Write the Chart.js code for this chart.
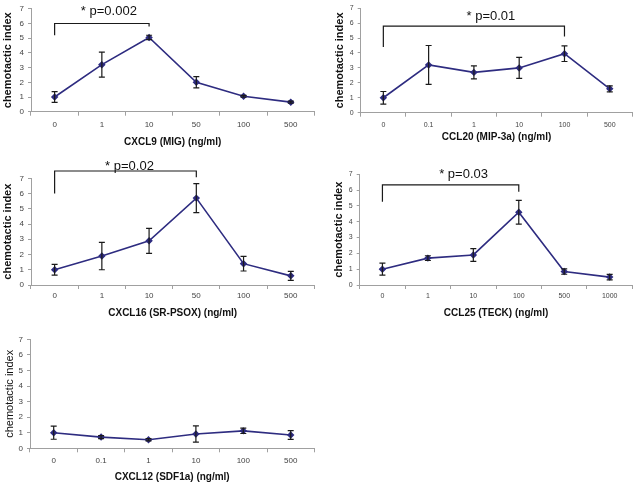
<!DOCTYPE html>
<html>
<head>
<meta charset="utf-8">
<script src="https://cdn.jsdelivr.net/npm/chart.js@4.4.0/dist/chart.umd.min.js"></script>
<style>
    html, body { margin: 0; padding: 0; background: #fff; }
    body { width: 638px; height: 488px; position: relative; overflow: hidden; }
    .panel { position: absolute; }
</style>
</head>
<body>
<div class="panel" style="left:0px;top:0px;width:320px;height:152px"><canvas id="c1"></canvas></div>
<div class="panel" style="left:318px;top:0px;width:320px;height:152px"><canvas id="c2"></canvas></div>
<div class="panel" style="left:0px;top:150px;width:320px;height:170px"><canvas id="c3"></canvas></div>
<div class="panel" style="left:318px;top:150px;width:320px;height:170px"><canvas id="c4"></canvas></div>
<div class="panel" style="left:0px;top:320px;width:320px;height:168px"><canvas id="c5"></canvas></div>
<script>
// dados (média e erro)
const yTicks = [0, 1, 2, 3, 4, 5, 6, 7];

const cxcl9Doses = ['0', '1', '10', '50', '100', '500'];
const cxcl9Mean = [1.0, 3.2, 5.05, 2.0, 1.05, 0.65];
const cxcl9Err = [0.37, 0.85, 0.15, 0.38, 0.06, 0.07];
const cxcl9Bracket = [0, 2, 6.0, 5.2, 5.8];   // de, até, topo, perna esq., perna dir.

const ccl20Doses = ['0', '0.1', '1', '10', '100', '500'];
const ccl20Mean = [1.0, 3.2, 2.7, 3.0, 3.95, 1.6];
const ccl20Err = [0.42, 1.3, 0.43, 0.7, 0.52, 0.2];
const ccl20Bracket = [0, 4, 5.8, 4.4, 5.1];

const cxcl16Doses = ['0', '1', '10', '50', '100', '500'];
const cxcl16Mean = [1.0, 1.9, 2.9, 5.7, 1.4, 0.6];
const cxcl16Err = [0.35, 0.9, 0.82, 0.95, 0.48, 0.3];
const cxcl16Bracket = [0, 3, 7.48, 6.0, 7.07];

const ccl25Doses = ['0', '1', '10', '100', '500', '1000'];
const ccl25Mean = [1.0, 1.7, 1.9, 4.6, 0.85, 0.5];
const ccl25Err = [0.38, 0.15, 0.4, 0.75, 0.17, 0.17];
const ccl25Bracket = [0, 3, 6.33, 5.27, 5.9];

const cxcl12Doses = ['0', '0.1', '1', '10', '100', '500'];
const cxcl12Mean = [1.0, 0.72, 0.55, 0.92, 1.12, 0.85];
const cxcl12Err = [0.42, 0.1, 0.07, 0.52, 0.17, 0.28];

const FONT = "'Liberation Sans', Arial, sans-serif";
const LINE_COLOR = '#2e2c80';

// barras de erro + colchete de significância
const extrasPlugin = {
    id: 'extras',
    afterDatasetsDraw(chart, args, opts) {
        const ctx = chart.ctx;
        const meta = chart.getDatasetMeta(0);
        const y = chart.scales.y;
        const x = chart.scales.x;
        ctx.save();
        ctx.strokeStyle = '#1a1a1a';
        ctx.lineWidth = 1.2;
        opts.err.forEach(function(e, i) {
            const px = meta.data[i].x;
            const m = opts.mean[i];
            const top = y.getPixelForValue(m + e);
            const bot = y.getPixelForValue(m - e);
            ctx.beginPath();
            ctx.moveTo(px, top); ctx.lineTo(px, bot);
            ctx.moveTo(px - 3, top); ctx.lineTo(px + 3, top);
            ctx.moveTo(px - 3, bot); ctx.lineTo(px + 3, bot);
            ctx.stroke();
        });
        if (opts.bracket) {
            const b = opts.bracket;
            const x1 = x.getPixelForValue(b[0]);
            const x2 = x.getPixelForValue(b[1]);
            const yt = y.getPixelForValue(b[2]);
            ctx.beginPath();
            ctx.moveTo(x1, y.getPixelForValue(b[3]));
            ctx.lineTo(x1, yt);
            ctx.lineTo(x2, yt);
            ctx.lineTo(x2, y.getPixelForValue(b[4]));
            ctx.stroke();
            ctx.fillStyle = '#111';
            ctx.font = opts.labelSize + 'px ' + FONT;
            ctx.textAlign = 'center';
            ctx.textBaseline = 'middle';
            ctx.fillText(opts.label, (x1 + x2) / 2 + opts.labelDx, yt - opts.labelDy);
        }
        ctx.restore();
    }
};

function makePanel(id, doses, mean, err, p) {
    const el = document.getElementById(id);
    return new Chart(el.getContext('2d'), {
        type: 'line',
        data: {
            labels: doses,
            datasets: [{
                data: mean,
                borderColor: LINE_COLOR,
                backgroundColor: LINE_COLOR,
                borderWidth: 1.6,
                tension: 0,
                pointStyle: 'rectRot',
                pointRadius: 2.6,
                pointBackgroundColor: LINE_COLOR,
                pointBorderColor: LINE_COLOR
            }]
        },
        options: {
            responsive: true,
            maintainAspectRatio: false,
            animation: false,
            layout: { padding: { top: p.padTop, right: p.padRight, left: 0, bottom: 0 } },
            plugins: {
                legend: { display: false },
                tooltip: { enabled: false },
                extras: {
                    mean: mean, err: err, bracket: p.bracket, label: p.label,
                    labelSize: p.labelSize, labelDx: p.labelDx, labelDy: p.labelDy
                }
            },
            scales: {
                x: {
                    offset: true,
                    grid: { offset: true, drawOnChartArea: false, drawTicks: true, tickLength: 4, color: '#a0a0a0' },
                    border: { color: '#a0a0a0', width: 1 },
                    ticks: { color: '#444', font: { family: FONT, size: p.tickSize }, padding: p.xTickPad, maxRotation: 0, autoSkip: false },
                    title: {
                        display: true, text: p.xTitle, color: '#111',
                        font: { family: FONT, size: 10, weight: 'bold' },
                        padding: { top: 0, bottom: p.xTitlePad }
                    },
                    afterFit: function(s) { s.height = p.xHeight; }
                },
                y: {
                    min: 0, max: 7,
                    afterBuildTicks: function(s) { s.ticks = yTicks.map(v => ({ value: v })); },
                    grid: { drawOnChartArea: false, drawTicks: true, tickLength: 3, color: '#a0a0a0' },
                    border: { color: '#a0a0a0', width: 1 },
                    ticks: { color: '#444', font: { family: FONT, size: p.tickSize }, padding: 4 },
                    title: {
                        display: true, text: 'chemotactic index', color: '#111',
                        font: { family: FONT, size: p.yTitleSize, weight: p.yTitleWeight },
                        padding: { top: p.yTitlePad, bottom: 0 }
                    },
                    afterFit: function(s) { s.width = p.yWidth; }
                }
            }
        },
        plugins: [extrasPlugin]
    });
}

makePanel('c1', cxcl9Doses, cxcl9Mean, cxcl9Err, {
    padTop: 7.3, padRight: 5, yWidth: 31, xHeight: 40.3, tickSize: 8, xTickPad: 4,
    xTitle: 'CXCL9 (MIG) (ng/ml)', xTitlePad: 3.9, yTitleSize: 11, yTitleWeight: 'bold', yTitlePad: 1.4,
    bracket: cxcl9Bracket, label: '* p=0.002', labelSize: 13, labelDx: 7, labelDy: 12
});
makePanel('c2', ccl20Doses, ccl20Mean, ccl20Err, {
    padTop: 5, padRight: 2, yWidth: 42.7, xHeight: 39.3, tickSize: 7, xTickPad: 3.8,
    xTitle: 'CCL20 (MIP-3a) (ng/ml)', xTitlePad: 8.9, yTitleSize: 11, yTitleWeight: 'bold', yTitlePad: 15,
    bracket: ccl20Bracket, label: '* p=0.01', labelSize: 13, labelDx: 17, labelDy: 10
});
makePanel('c3', cxcl16Doses, cxcl16Mean, cxcl16Err, {
    padTop: 28.3, padRight: 5, yWidth: 31, xHeight: 35, tickSize: 8, xTickPad: 2,
    xTitle: 'CXCL16 (SR-PSOX) (ng/ml)', xTitlePad: 1.2, yTitleSize: 11, yTitleWeight: 'bold', yTitlePad: 1.7,
    bracket: cxcl16Bracket, label: '* p=0.02', labelSize: 13, labelDx: 4, labelDy: 5
});
makePanel('c4', ccl25Doses, ccl25Mean, ccl25Err, {
    padTop: 24.3, padRight: 3.3, yWidth: 41.7, xHeight: 35, tickSize: 7, xTickPad: 2.5,
    xTitle: 'CCL25 (TECK) (ng/ml)', xTitlePad: 0.6, yTitleSize: 11, yTitleWeight: 'bold', yTitlePad: 14,
    bracket: ccl25Bracket, label: '* p=0.03', labelSize: 13, labelDx: 13, labelDy: 10
});
makePanel('c5', cxcl12Doses, cxcl12Mean, cxcl12Err, {
    padTop: 19.3, padRight: 5, yWidth: 30, xHeight: 39.7, tickSize: 8, xTickPad: 3.7,
    xTitle: 'CXCL12 (SDF1a) (ng/ml)', xTitlePad: 5.2, yTitleSize: 11, yTitleWeight: 'normal', yTitlePad: 3.4,
    bracket: null
});
</script>
</body>
</html>
